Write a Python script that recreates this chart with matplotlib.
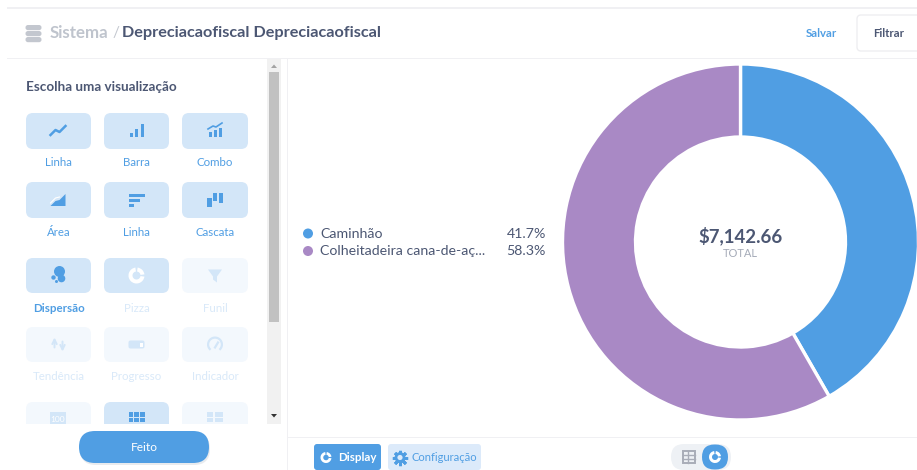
#!/usr/bin/env python3
"""Donut chart inside the viz-picker screenshot layout."""
import matplotlib
matplotlib.use("Agg")
import matplotlib.pyplot as plt
from matplotlib.patches import Circle, FancyBboxPatch, Polygon, Rectangle, Wedge

plt.rcParams["font.family"] = ["Lato", "DejaVu Sans"]

W, H = 917, 470
BLUE = "#509ee3"
PURPLE = "#a989c5"
DARK = "#4c5773"
PALE = "#d3e6f8"
FAINT = "#f3f8fd"
FAINT_TXT = "#d9e9f9"
LINE = "#f0f0f3"

categories = ["Caminhão", "Colheitadeira cana-de-aç..."]
shares = [41.7, 58.3]
share_labels = ["41.7%", "58.3%"]
slice_colors = [BLUE, PURPLE]
total_label = "$7,142.66"

viz_names = [["Linha", "Barra", "Combo"],
             ["Área", "Linha", "Cascata"],
             ["Dispersão", "Pizza", "Funil"],
             ["Tendência", "Progresso", "Indicador"]]
viz_active = [[1, 1, 1], [1, 1, 1], [1, 1, 0], [0, 0, 0]]
col_x = [(26, 91), (104, 169), (182, 248)]
row_y = [(113, 149), (182, 218), (258, 293), (327, 362)]
label_y = [163, 232, 308, 377]

fig = plt.figure(figsize=(W / 100, H / 100), dpi=100, facecolor="white")
ui = fig.add_axes([0, 0, 1, 1])
ui.set_xlim(0, W)
ui.set_ylim(H, 0)
ui.axis("off")


def rbox(x0, y0, x1, y1, r, fc, ec="none", lw=0, z=1):
    ui.add_patch(FancyBboxPatch((x0 + r, y0 + r), x1 - x0 - 2 * r, y1 - y0 - 2 * r,
                                boxstyle=f"round,pad={r},rounding_size={r}",
                                fc=fc, ec=ec, lw=lw, zorder=z))


def rect(x0, y0, x1, y1, c, z=2):
    ui.add_patch(Rectangle((x0, y0), x1 - x0, y1 - y0, fc=c, ec="none", zorder=z))


def label(x, y, s, size=9, c=DARK, ha="center", weight="normal"):
    ui.text(x, y, s, fontsize=size, color=c, ha=ha, va="center", weight=weight, zorder=6)


def donut_icon(x, y, r, c):
    # y axis is flipped here, so the notched piece at upper right has negative angles
    ui.add_patch(Wedge((x, y), r, 8, 262, width=r * 0.5, fc=c, ec="none", zorder=4))
    ui.add_patch(Wedge((x, y), r, 278, 352, width=r * 0.5, fc=c, ec="none", zorder=4))


def draw_icon(name, x, y, c):
    if name == "Linha0":
        ui.plot([x - 8, x - 3, x + 1, x + 7], [y + 4, y - 1, y + 1, y - 5], color=c, lw=1.8, zorder=4)
    elif name == "Barra":
        rect(x - 7, y + 2, x - 4, y + 6, c, 4)
        rect(x - 2, y - 2, x + 1, y + 6, c, 4)
        rect(x + 4, y - 7, x + 7, y + 6, c, 4)
    elif name == "Combo":
        rect(x - 6, y + 1, x - 3, y + 6, c, 4)
        rect(x - 1, y - 1, x + 2, y + 6, c, 4)
        rect(x + 4, y - 3, x + 7, y + 6, c, 4)
        ui.plot([x - 7, x - 2, x + 1, x + 7], [y - 2, y - 5, y - 4, y - 8], color=c, lw=1.2, zorder=4)
    elif name == "Área":
        ui.add_patch(Polygon([(x - 8, y + 6), (x - 3, y + 1), (x + 1, y), (x + 7, y - 6), (x + 7, y + 6)],
                             fc=c, ec="none", zorder=4))
        ui.plot([x - 8, x - 3, x + 1], [y + 3, y - 2, y - 3], color="white", lw=0.8, zorder=5)
    elif name == "Linha1":
        rect(x - 8, y - 6, x + 8, y - 3, c, 4)
        rect(x - 8, y - 1, x + 3, y + 2, c, 4)
        rect(x - 8, y + 4, x - 3, y + 7, c, 4)
    elif name == "Cascata":
        rect(x - 8, y - 2, x - 3, y + 7, c, 4)
        rect(x - 2, y - 7, x + 2, y + 1, c, 4)
        rect(x + 4, y - 7, x + 8, y + 3, c, 4)
    elif name == "Dispersão":
        ui.add_patch(Circle((x + 1, y - 4), 5.5, fc=c, zorder=4))
        ui.add_patch(Circle((x + 3, y + 3), 3.8, fc=c, zorder=4))
        ui.add_patch(Circle((x - 5, y + 2), 2.2, fc=c, zorder=4))
        ui.add_patch(Circle((x - 2, y + 6), 1.5, fc=c, zorder=4))
    elif name == "Pizza":
        donut_icon(x, y, 8, "white")
    elif name == "Funil":
        ui.add_patch(Polygon([(x - 7, y - 6), (x + 7, y - 6), (x + 2, y + 1), (x + 2, y + 7), (x - 2, y + 4), (x - 2, y + 1)],
                             fc=c, ec="none", zorder=4))
    elif name == "Tendência":
        for dx, tip, tail in ((-4, y - 7, y + 3), (4, y + 7, y - 3)):
            ui.annotate("", (x + dx, tip), (x + dx, tail), zorder=4,
                        arrowprops=dict(arrowstyle="->", color=c, lw=1.4, shrinkA=0, shrinkB=0, mutation_scale=8))
    elif name == "Progresso":
        rbox(x - 8, y - 4, x + 8, y + 4, 2, c, z=4)
        rect(x + 3, y - 2, x + 6, y + 2, "white", 5)
    elif name == "Indicador":
        ui.add_patch(Wedge((x, y), 8, 130, 50, width=2.2, fc=c, ec="none", zorder=4))
        ui.plot([x, x + 3], [y + 3, y - 2], color=c, lw=1.6, zorder=4)


# header
rect(7, 7, W, 9, LINE)
rect(7, 57.5, W, 58.8, LINE)
for yy in (25, 31, 37):
    rbox(25.5, yy, 41.5, yy + 5.2, 2.5, "#c3c7cf", z=3)
label(50, 33.5, "Sistema", 12.2, "#bfc4cd", "left", "bold")
label(112, 33.5, "/", 11, "#c3c7cf", "left")
label(122, 33.5, "Depreciacaofiscal Depreciacaofiscal", 11.7, DARK, "left", "bold")
label(821, 33.5, "Salvar", 8.2, BLUE, weight="bold")
rbox(857, 15, 930, 51, 4, "white", "#eeeef1", 1)
label(889, 33.5, "Filtrar", 8.2, DARK, weight="bold")

# viz picker
label(26, 87, "Escolha uma visualização", 9.7, DARK, "left", "bold")
for r, (row, (y0, y1)) in enumerate(zip(viz_names, row_y)):
    for c, (name, (x0, x1)) in enumerate(zip(row, col_x)):
        on = viz_active[r][c]
        rbox(x0, y0, x1, y1, 7, PALE if on else FAINT)
        key = f"{name}{r}" if name == "Linha" else name
        draw_icon(key, (x0 + x1) / 2, (y0 + y1) / 2, BLUE if on else PALE)
        txt = BLUE if on and name != "Pizza" else FAINT_TXT
        label((x0 + x1) / 2, label_y[r], name, 8.3, txt, weight="bold" if name == "Dispersão" else "normal")

# last row, cut off by the footer
rbox(26, 402, 91, 440, 7, FAINT)
rbox(104, 402, 169, 440, 7, PALE)
rbox(182, 402, 248, 440, 7, FAINT)
rect(50, 412, 66, 424, PALE, 4)
label(58, 420, "100", 6, "white")
for i in range(3):
    for j in range(2):
        rect(128.5 + i * 5.6, 412 + j * 5.6, 133.3 + i * 5.6, 416.8 + j * 5.6, BLUE, 4)
for j in range(2):
    rect(207, 412 + j * 5.6, 213, 416.8 + j * 5.6, PALE, 4)
    rect(214.5, 412 + j * 5.6, 223, 416.8 + j * 5.6, PALE, 4)
rect(0, 424, 267, H, "white", 5)

# scrollbar
rect(267, 58.5, 281, 424, "#f1f1f1", 3)
rect(269, 72, 279, 322, "#c1c1c1", 4)
ui.add_patch(Polygon([(271, 68), (277, 68), (274, 64.5)], fc="#a3a3a3", zorder=4))
ui.add_patch(Polygon([(271, 414), (277, 414), (274, 417.5)], fc="#333333", zorder=4))
rect(287, 58.5, 288.2, H, LINE, 3)

# done button
rbox(80, 433, 210, 465, 16, "#e9ebee", z=6)
rbox(79, 431, 209, 463, 16, BLUE, z=7)
ui.text(144, 447.5, "Feito", fontsize=8.6, color="white", ha="center", va="center", zorder=8)

# footer
rect(288, 436.5, W, 437.8, LINE, 3)
rbox(314, 444, 381, 470, 3, BLUE)
donut_icon(326, 457.5, 5.5, "white")
label(357, 457.5, "Display", 8.3, "white", weight="bold")
rbox(388, 444, 481, 470, 3, "#dceafa")
ui.plot([400], [457.5], marker=(8, 2, 0), ms=11, mew=2, color=BLUE, zorder=4)
ui.add_patch(Circle((400, 457.5), 4, fc="#dceafa", ec=BLUE, lw=2, zorder=5))
label(444, 457.5, "Configuração", 8, BLUE)
rbox(671, 444, 731, 470, 13, "#eef1f5")
rbox(702, 444.5, 728, 469.5, 12.5, BLUE, z=3)
donut_icon(715, 457, 6, "white")
ui.add_patch(Rectangle((683, 451), 12, 12, fc="none", ec="#a9adb8", lw=1.4, zorder=4))
ui.plot([683, 695], [455, 455], color="#a9adb8", lw=1, zorder=4)
ui.plot([683, 695], [459, 459], color="#a9adb8", lw=1, zorder=4)
ui.plot([687.5, 687.5], [451, 463], color="#a9adb8", lw=1, zorder=4)

# legend
for yy, name, pct, col in zip((233.5, 251), categories, share_labels, slice_colors):
    ui.add_patch(Circle((308, yy), 5, fc=col, ec="none", zorder=4))
    label(320, yy, name, 10.2, DARK, "left")
    label(546, yy, pct, 10.2, DARK, "right")

# donut, axes placed so the ring is centred on the picture's hole
cx, cy, R = 740.5, 242, 178
pie_ax = fig.add_axes([(cx - R) / W, 1 - (cy + R) / H, 2 * R / W, 2 * R / H], zorder=2)
pie_ax.pie(shares, colors=slice_colors, startangle=90, counterclock=False, radius=1,
           wedgeprops=dict(width=1 - 105 / R, edgecolor="white", linewidth=2.4))
pie_ax.set_xlim(-1, 1)
pie_ax.set_ylim(-1, 1)
pie_ax.text(0, 0.035, total_label, fontsize=13.4, color=DARK, ha="center", va="center", weight="bold")
pie_ax.text(0, -0.065, "TOTAL", fontsize=8, color="#a5abb8", ha="center", va="center")

fig.savefig("out.png", dpi=100)
